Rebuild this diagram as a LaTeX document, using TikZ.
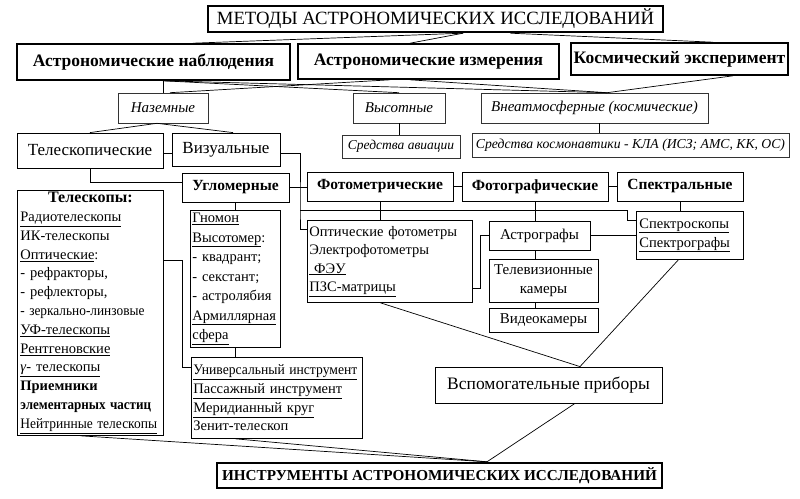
\documentclass[tikz,border=0pt]{standalone}
\usepackage{fontspec}
\setmainfont{Liberation Serif}
\begin{document}
\begin{tikzpicture}[x=1pt,y=-1pt,
  box/.style={draw, line width=0.8pt, inner sep=0pt, align=center},
  heavybox/.style={box, line width=1.6pt, font=\fontsize{17.5}{18}\selectfont\bfseries},
  titlebox/.style={box, line width=2.4pt},
  ibox/.style={box, line width=0.6pt, draw=black!80, font=\fontsize{15}{15}\selectfont\itshape},
  kindbox/.style={box, font=\fontsize{17}{17}\selectfont},
  boldbox/.style={box, font=\fontsize{15.5}{15.5}\selectfont\bfseries},
  plainbox/.style={box, font=\fontsize{15}{19}\selectfont},
  listbox/.style={box, anchor=north west, align=left, font=\fontsize{14.5}{18.8}\selectfont},
  conn/.style={line width=0.7pt}
]
\fill[white] (0,0) rectangle (800,498);
\useasboundingbox (0,0) rectangle (800,498);

% titles and first rows
\node[titlebox, minimum width=455pt, minimum height=26pt, font=\fontsize{18.7}{19}\selectfont] (title) at (435.5,19) {МЕТОДЫ АСТРОНОМИЧЕСКИХ ИССЛЕДОВАНИЙ};
\node[heavybox, minimum width=273pt, minimum height=36pt] (obs) at (153.5,62) {Астрономические наблюдения};
\node[heavybox, minimum width=261pt, minimum height=35pt] (meas) at (428.5,61.5) {Астрономические измерения};
\node[heavybox, minimum width=217pt, minimum height=32pt] (cosm) at (679.5,59) {Космический эксперимент};

\node[ibox, minimum width=90pt, minimum height=30pt] (ground) at (163,108) {Наземные};
\node[ibox, minimum width=92pt, minimum height=30pt] (high) at (399,108) {Высотные};
\node[ibox, minimum width=227pt, minimum height=30pt] (extra) at (594.5,108) {Внеатмосферные (космические)};
\node[ibox, minimum width=118pt, minimum height=23pt, font=\fontsize{13.5}{14}\selectfont\itshape] (avia) at (401,146.5) {Средства авиации};
\node[ibox, minimum width=317pt, minimum height=24pt, font=\fontsize{13.7}{14}\selectfont\itshape] (cosmo) at (630.5,145) {Средства космонавтики - КЛА (ИСЗ; АМС, КК, ОС)};

\node[kindbox, minimum width=146pt, minimum height=35pt] (telesc) at (90,150.5) {Телескопические};
\node[kindbox, minimum width=108pt, minimum height=33pt] (visual) at (226,149.5) {Визуальные};

\node[boldbox, minimum width=107pt, minimum height=29pt] (angle) at (235.5,187.5) {Угломерные};
\node[boldbox, minimum width=146pt, minimum height=29pt] (photom) at (380,186.5) {Фотометрические};
\node[boldbox, minimum width=146pt, minimum height=29pt] (photog) at (535,186.5) {Фотографические};
\node[boldbox, minimum width=126pt, minimum height=29pt] (spectr) at (680,186.5) {Спектральные};

% list boxes
\node[listbox, minimum width=146pt, minimum height=245pt, text width=140pt] (tbox) at (17,190) {%
\makebox[140pt][c]{\fontsize{16}{18.8}\selectfont\textbf{Телескопы:}}\\
\underline{Радиотелескопы}\\
ИК-телескопы\\
\underline{Оптические}:\\
- рефракторы,\\
- рефлекторы,\\
\scalebox{0.92}[1]{- зеркально-линзовые}\\
\underline{УФ-телескопы}\\
\underline{Рентгеновские}\\
\underline{\textit{γ}- телескопы}\\
\textbf{Приемники}\\
\scalebox{0.9}[1]{\textbf{элементарных частиц}}\\
\underline{\scalebox{0.93}[1]{Нейтринные телескопы}}};

\node[listbox, minimum width=90pt, minimum height=137pt, text width=86pt, font=\fontsize{14.5}{19.5}\selectfont] (gbox) at (190,210) {%
\underline{Гномон}\\
\underline{Высотомер}:\\
- квадрант;\\
- секстант;\\
- астролябия\\
\underline{Армиллярная}\\
\underline{сфера}};

\node[listbox, minimum width=171pt, minimum height=81pt, text width=167pt] (ubox) at (191,357) {%
\underline{\scalebox{0.94}[1]{Универсальный инструмент}}\\
\underline{Пассажный~инструмент}\\
\underline{Меридианный~круг}\\
Зенит-телескоп};

\node[listbox, minimum width=165pt, minimum height=82pt, text width=161pt, font=\fontsize{14.5}{18.5}\selectfont] (obox) at (307,220) {%
Оптические~фотометры\\
Электрофотометры\\
\underline{\ ФЭУ}\\
\underline{ПЗС-матрицы}};

\node[listbox, minimum width=107pt, minimum height=48pt, text width=101pt, font=\fontsize{14.5}{19}\selectfont] (sbox) at (636,211) {%
\underline{Спектроскопы}\\
\underline{Спектрографы}};

\node[plainbox, minimum width=101pt, minimum height=29pt] (astro) at (539.5,235.5) {Астрографы};
\node[plainbox, minimum width=109pt, minimum height=43pt] (tv) at (543.5,280.5) {Телевизионные\\камеры};
\node[plainbox, minimum width=109pt, minimum height=24pt] (video) at (543.5,320) {Видеокамеры};
\node[box, minimum width=227pt, minimum height=36pt, font=\fontsize{17.5}{18}\selectfont] (aux) at (548.5,385) {Вспомогательные приборы};

\node[titlebox, minimum width=445pt, minimum height=25pt, font=\fontsize{15.2}{16}\selectfont\bfseries] (btitle) at (439.5,475.5) {ИНСТРУМЕНТЫ АСТРОНОМИЧЕСКИХ ИССЛЕДОВАНИЙ};

% connectors: methods
\draw[conn] ([xshift=27.5pt]title.south) -- ([xshift=39.5pt]obs.north);
\draw[conn] ([xshift=27.5pt]title.south) -- ([xshift=-18.5pt]meas.north);
\draw[conn] ([xshift=75pt]title.south) -- ([xshift=33.5pt]cosm.north);

\draw[conn] (obs.south -| ground.north) -- (ground.north);
\draw[conn] (obs.south -| ground.north) -- (high.north);
\draw[conn] (obs.south -| ground.north) -- ([xshift=12.5pt]extra.north);
\draw[conn] ([xshift=-38.5pt]meas.south) -- ([xshift=7pt]ground.north);
\draw[conn] ([xshift=-18.5pt]meas.south) -- ([xshift=12.5pt]extra.north);
\draw[conn] ([xshift=53.5pt]cosm.south) -- ([xshift=12.5pt]extra.north);

\draw[conn] (high.south) -- (high.south |- avia.north);
\draw[conn] ([xshift=4.5pt]extra.south) -- ([xshift=4.5pt]extra.south |- cosmo.north);

\draw[conn] ([xshift=-6pt]ground.south) -- (telesc.north);
\draw[conn] ([xshift=-6pt]ground.south) -- ([xshift=7pt]visual.north);

% connectors: kinds
\draw[conn] ([yshift=-3pt]telesc.east) -- ([yshift=-3pt]telesc.east -| visual.west);
\coordinate (jv) at (300,210);
\draw[conn] ([yshift=-3.5pt]visual.east) -| (jv) |- ([yshift=32pt]obox.west);
\draw[conn] (jv) -| ([xshift=-9pt,yshift=15pt]sbox.west) -- ([yshift=15pt]sbox.west);
\draw[conn] (angle.east) -- (angle.east -| photom.west);
\draw[conn] (photom.east) -- (photom.east -| photog.west);
\draw[conn] (photog.east) -- (photog.east -| spectr.west);
\draw[conn] (telesc.south) |- ([yshift=5.5pt]angle.west);
\draw[conn] (angle.south) -- (angle.south |- gbox.north);
\draw[conn] (gbox.south) -- (gbox.south |- ubox.north);
\draw[conn] ([yshift=52.5pt]tbox.east) -- ++(19,0) |- ([yshift=30.5pt]ubox.west);
\draw[conn] (photom.south) -- (photom.south |- obox.north);
\draw[conn] (photog.south) -- (photog.south |- astro.north);
\draw[conn] (spectr.south) -- (spectr.south |- sbox.north);
\draw[conn] ([yshift=-27pt]obox.east) -- ++(8,0) |- (astro.west);
\draw[conn] (astro.east) -- (astro.east -| sbox.west);
\draw[conn] ([xshift=-4.5pt]astro.south) -- ([xshift=-4.5pt]astro.south |- tv.north);
\draw[conn] ([xshift=-8.5pt]tv.south) -- ([xshift=-8.5pt]tv.south |- video.north);

% connectors: to auxiliary and instruments
\draw[conn] ([xshift=-9.5pt]obox.south) -- ([xshift=31.5pt]aux.north);
\draw[conn] ([xshift=-11.5pt]sbox.south) -- ([xshift=31.5pt]aux.north);
\draw[conn] ([xshift=-10pt]tbox.south) -- ([xshift=47.5pt]btitle.north);
\draw[conn] ([xshift=-41.5pt]ubox.south) -- ([xshift=47.5pt]btitle.north);
\draw[conn] ([xshift=26.5pt]aux.south) -- ([xshift=47.5pt]btitle.north);
\end{tikzpicture}
\end{document}
